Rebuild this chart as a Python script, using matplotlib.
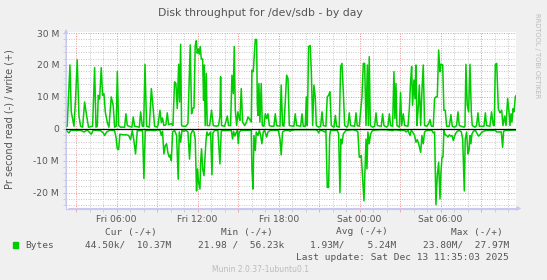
import matplotlib
matplotlib.use("Agg")
import matplotlib.pyplot as plt
from matplotlib.ticker import MultipleLocator, FuncFormatter
from matplotlib.patches import Rectangle

# hours since Fri 00:00, values in MB/s
write_h = [2.25, 2.34, 2.54, 2.64, 2.74, 2.84, 2.96, 3.08, 3.21, 3.33, 3.48, 3.63, 3.78, 3.92,
           4.22, 4.37, 4.47, 4.57, 4.64, 4.74, 4.86, 4.96, 5.06, 5.16, 5.31, 5.43, 5.60, 5.75,
           5.85, 5.97, 6.05, 6.15, 6.29, 6.59, 6.69, 6.79, 7.13, 7.23, 7.33, 7.68, 7.78, 7.90,
           8.00, 8.10, 8.22, 8.42, 8.57, 8.71, 8.81, 9.01,
           9.06, 9.21, 9.31, 9.40, 9.50, 9.65, 9.75, 9.85, 10.05, 10.17, 10.29, 10.39, 10.49,
           10.59, 10.66, 10.74, 10.81, 10.94, 11.13, 11.28, 11.45, 11.55, 11.65, 11.73, 11.82,
           11.90, 11.97, 12.05, 12.12, 12.19, 12.27, 12.37, 12.44, 12.49, 12.56, 12.64, 12.71,
           12.89, 13.03, 13.16, 13.40, 13.55, 13.65, 13.70, 13.77, 14.00, 14.20, 14.29, 14.44,
           14.54, 14.64, 14.71, 14.79, 14.89, 14.98, 15.06, 15.13, 15.23, 15.33, 15.48, 15.60,
           15.73, 15.82, 15.97,
           16.02, 16.12, 16.27, 16.37, 16.42, 16.47, 16.54, 16.61, 16.71, 16.79, 16.91, 17.01,
           17.11, 17.21, 17.31, 17.45, 17.65, 17.75, 17.85, 18.10, 18.19, 18.29, 18.39, 18.49,
           18.59, 18.69, 18.79, 19.13, 19.23, 19.33, 19.63, 19.73, 19.82, 19.97, 20.05, 20.12,
           20.22, 20.34, 20.42, 20.52, 20.61, 20.71, 20.79, 20.96, 21.11, 21.21, 21.31, 21.50,
           21.60, 21.70, 21.80, 21.90, 22.10, 22.20, 22.29, 22.49, 22.59, 22.69, 22.79, 22.89,
           23.06,
           23.13, 23.23, 23.33, 23.63, 23.73, 23.82, 23.97, 24.07, 24.17, 24.27, 24.37, 24.47,
           24.57, 24.64, 24.71, 24.79, 24.96, 25.11, 25.21, 25.31, 25.60, 25.70, 25.80, 26.00,
           26.10, 26.20, 26.29, 26.44, 26.54, 26.61, 26.69, 26.76, 26.94, 27.03, 27.11, 27.23,
           27.33, 27.58, 27.68, 27.77, 27.85, 27.92, 28.02, 28.10, 28.17, 28.24, 28.32, 28.42,
           28.52, 28.61, 28.71, 28.81, 28.96, 29.11, 29.21, 29.31, 29.45, 29.55, 29.65, 29.75,
           29.85, 29.95,
           30.02, 30.15, 30.24, 30.34, 30.44, 30.64, 30.76, 30.86, 31.03, 31.18, 31.28, 31.38,
           31.73, 31.80, 31.87, 31.97, 32.07, 32.17, 32.27, 32.34, 32.54, 32.66, 32.76, 32.86,
           33.21, 33.31, 33.40, 33.65, 33.77, 33.90, 33.97, 34.05, 34.15, 34.27, 34.39, 34.52,
           34.61, 34.74, 34.84, 34.96, 35.06, 35.13, 35.21, 35.28, 35.36, 35.43, 35.53, 35.58]
write_v = [0.8, 0.8, 20.0, 5.3, 3.0, 0.8, 9.5, 21.6, 4.0, 0.8, 0.5, 8.4, 4.0, 0.5,
           0.8, 19.2, 0.5, 0.8, 10.5, 9.3, 19.2, 10.5, 11.0, 5.3, 1.9, 0.5, 10.0, 7.2,
           0.5, 0.8, 17.9, 1.0, 0.5, 0.5, 4.7, 1.0, 0.5, 3.7, 0.8, 0.5, 5.3, 0.8,
           0.8, 20.2, 0.8, 0.5, 12.6, 6.1, 0.8, 0.5,
           1.0, 5.8, 1.9, 3.4, 1.0, 1.3, 5.0, 1.3, 1.6, 1.0, 14.7, 14.2, 6.3,
           20.2, 8.4, 26.5, 1.0, 0.8, 0.8, 1.6, 26.3, 4.7, 6.5, 6.5, 26.1,
           27.6, 23.7, 25.0, 23.4, 25.8, 21.9, 21.9, 8.9, 20.0, 1.0, 17.4, 1.0,
           1.0, 5.8, 1.0, 0.8, 1.0, 4.0, 16.3, 1.0, 0.8, 4.0, 1.0, 1.0,
           16.8, 11.0, 25.8, 5.8, 1.0, 5.3, 3.7, 2.6, 12.6, 2.1, 1.0, 1.9,
           3.7, 3.2, 2.1,
           18.4, 17.9, 28.0, 28.0, 7.4, 4.2, 14.2, 2.1, 14.2, 1.0, 0.8, 4.7,
           3.2, 4.7, 1.0, 0.8, 0.8, 4.7, 1.0, 0.8, 13.7, 1.0, 0.8, 8.4,
           16.8, 15.8, 1.0, 0.8, 4.7, 1.0, 0.8, 4.7, 0.8, 0.8, 10.0, 1.0,
           25.8, 26.1, 17.9, 1.0, 13.7, 10.0, 1.0, 0.5, 0.8, 5.3, 1.0, 0.8,
           10.0, 10.5, 11.6, 1.0, 0.5, 4.2, 0.8, 0.5, 19.5, 20.5, 11.6, 1.0,
           0.5,
           1.0, 5.0, 1.0, 0.8, 5.0, 1.0, 0.8, 5.3, 10.0, 20.5, 20.5, 1.0,
           20.0, 1.0, 22.6, 1.0, 0.5, 0.8, 5.0, 1.0, 0.8, 4.7, 1.0, 0.5,
           1.0, 4.7, 1.0, 0.8, 17.9, 3.2, 14.2, 1.0, 0.5, 11.4, 1.0, 4.7,
           1.0, 0.8, 6.3, 14.7, 19.5, 7.4, 15.3, 9.5, 20.0, 1.0, 5.3, 13.7,
           1.0, 11.6, 20.0, 1.0, 0.8, 1.6, 2.9, 0.8, 0.8, 9.5, 10.0, 10.0,
           24.7, 17.9,
           20.2, 20.0, 5.8, 5.8, 0.8, 0.8, 4.4, 0.8, 0.5, 1.0, 5.3, 1.0,
           0.5, 0.8, 20.2, 7.4, 5.3, 20.2, 5.3, 1.0, 0.5, 1.0, 5.0, 0.8,
           0.8, 5.0, 1.0, 0.8, 5.3, 1.0, 1.0, 20.2, 20.5, 6.3, 5.0, 5.8,
           1.0, 4.0, 1.0, 9.5, 5.3, 1.0, 4.7, 2.1, 6.3, 5.3, 10.0, 10.4]

read_h = [2.25, 2.34, 2.47, 2.59, 3.33, 3.58, 3.82, 4.12, 4.27, 4.81, 5.01, 5.11, 5.26, 5.55,
          5.85, 5.95, 6.05, 6.15, 6.24, 6.49, 6.74, 6.89, 7.03, 7.16, 7.28, 7.40, 7.53, 7.92,
          8.02, 8.12, 8.52, 8.81, 9.06,
          9.21, 9.31, 9.40, 9.50, 9.60, 9.70, 9.80, 9.90, 9.97, 10.05, 10.15, 10.29, 10.44,
          10.56, 10.64, 10.74, 10.84, 10.99, 11.13, 11.28, 11.40, 11.50, 11.63, 11.73, 11.82,
          11.92, 11.99, 12.07, 12.17, 12.22, 12.29, 12.37, 12.47, 12.54, 12.61, 12.69, 12.79,
          12.89, 12.96, 13.06, 13.13, 13.26, 13.50, 13.65, 13.75, 14.49, 14.59, 14.66, 14.76,
          14.84, 14.94, 15.01, 15.08, 15.23, 15.97,
          16.02, 16.10, 16.17, 16.27, 16.34, 16.47, 16.57, 16.66, 16.76, 16.86, 16.96, 17.11,
          17.21, 17.40, 17.98, 18.10, 18.19, 18.29, 18.49, 18.74, 18.84, 18.94, 19.23, 20.71,
          20.86, 20.96, 21.06, 21.26, 21.40, 21.50, 21.60, 21.70, 21.78, 21.85, 22.34, 22.44,
          22.54, 22.61, 22.69, 22.79, 22.99,
          23.48, 23.73, 23.87, 23.97, 24.07, 24.12, 24.22, 24.32, 24.39, 24.47, 24.54, 24.61,
          24.71, 24.81, 24.96, 25.45, 25.95, 26.44, 26.59, 26.94, 27.33, 27.43, 27.58, 27.73,
          27.82, 27.92, 28.07, 28.17, 28.27, 28.37, 28.52, 28.61, 28.71, 28.81, 28.96, 29.36,
          29.45, 29.55, 29.65, 29.75, 29.85,
          29.95, 30.02, 30.10, 30.17, 30.24, 30.34, 30.44, 30.54, 30.64, 30.74, 30.84, 30.94,
          31.03, 31.13, 31.23, 31.38, 31.53, 31.63, 31.75, 31.82, 31.92, 32.02, 32.10, 32.17,
          32.24, 32.32, 32.42, 32.57, 32.71, 32.81, 32.91, 33.01, 33.16, 33.40, 34.05, 34.15,
          34.49, 34.59, 34.66, 34.79, 35.58]
read_v = [0.5, 0.8, 1.3, 0.5, 0.5, 1.0, 0.4, 1.7, 0.4, 0.6, 1.3, 2.1, 1.0, 0.4,
          0.6, 2.6, 6.3, 6.5, 1.7, 1.9, 1.9, 2.1, 3.4, 0.6, 3.7, 7.9, 0.6, 0.6,
          15.6, 0.6, 0.5, 0.6, 0.3,
          0.5, 2.1, 0.8, 7.9, 5.3, 4.7, 7.6, 8.9, 8.2, 10.0, 1.0, 0.5, 2.1,
          15.8, 1.0, 4.2, 0.5, 0.8, 0.5, 1.0, 9.5, 1.6, 0.5, 1.0, 3.2,
          19.5, 12.6, 16.8, 18.9, 10.5, 6.3, 12.6, 14.7, 9.5, 4.2, 1.0, 2.1,
          1.6, 1.0, 14.4, 1.3, 0.5, 0.5, 11.0, 0.6, 0.5, 3.2, 0.8, 2.3,
          1.3, 0.5, 4.7, 1.0, 0.5, 0.5,
          12.6, 18.9, 2.1, 6.8, 1.0, 2.1, 0.5, 1.9, 4.7, 1.0, 0.5, 2.6,
          1.0, 0.5, 0.5, 3.2, 8.2, 1.0, 0.5, 0.5, 0.8, 0.5, 0.3, 0.3,
          0.5, 1.3, 0.5, 0.6, 1.0, 0.5, 18.4, 18.4, 2.1, 0.5, 0.5, 1.6,
          20.0, 3.2, 4.7, 1.6, 0.5,
          0.3, 0.5, 1.0, 8.9, 8.9, 8.4, 15.8, 22.6, 13.7, 3.2, 12.6, 1.0,
          4.7, 1.6, 0.5, 0.3, 0.3, 0.6, 0.3, 0.5, 0.5, 1.0, 0.5, 2.1,
          0.5, 1.0, 2.1, 4.2, 3.4, 4.7, 7.4, 2.1, 4.7, 1.0, 0.5, 0.5,
          1.3, 1.0, 23.8, 14.7, 10.5,
          22.0, 13.7, 8.9, 8.9, 0.5, 1.9, 2.1, 2.6, 1.9, 2.3, 2.1, 3.7,
          2.3, 1.3, 0.8, 0.5, 1.0, 3.2, 19.5, 3.2, 1.0, 7.9, 6.8, 2.1,
          4.7, 1.6, 0.8, 0.5, 1.6, 2.3, 1.9, 1.3, 0.8, 0.5, 0.5, 1.0,
          1.0, 5.8, 0.8, 0.5, 0.4]

x_ticks = [6, 12, 18, 24, 30]
x_labels = ["Fri 06:00", "Fri 12:00", "Fri 18:00", "Sat 00:00", "Sat 06:00"]

W, H = 547, 280
fig = plt.figure(figsize=(W / 100, H / 100), dpi=100, facecolor="#F0F0F0")
ax = fig.add_axes([66 / W, 1 - 208.5 / H, 450 / W, 177 / H])
ax.set_facecolor("white")

green = "#00CC00"
ax.plot(write_h, write_v, color=green, lw=1.1, zorder=3)
ax.plot(read_h, [-v for v in read_v], color=green, lw=1.1, zorder=3)
ax.axhline(0, color="black", lw=0.9, zorder=4)

ax.set_xlim(2.25, 35.58)
ax.set_ylim(-25, 30.5)

ax.xaxis.set_major_locator(MultipleLocator(3))
ax.xaxis.set_minor_locator(MultipleLocator(1))
ax.yaxis.set_major_locator(MultipleLocator(10))
ax.yaxis.set_minor_locator(MultipleLocator(2))

def xfmt(v, pos):
    v = int(round(v))
    return x_labels[x_ticks.index(v)] if v in x_ticks else ""

def yfmt(v, pos):
    v = int(round(v))
    return "0" if v == 0 else f"{v} M"

ax.xaxis.set_major_formatter(FuncFormatter(xfmt))
ax.yaxis.set_major_formatter(FuncFormatter(yfmt))

dots = (0, (1, 1.5))
ax.grid(which="minor", color="#C8C8C8", ls=dots, lw=0.7, zorder=1)
ax.grid(which="major", color="#F09090", ls=dots, lw=0.7, zorder=2)

for s in ["top", "right"]:
    ax.spines[s].set_visible(False)
for s in ["left", "bottom"]:
    ax.spines[s].set_color("#C8C8F0")
    ax.spines[s].set_linewidth(0.8)

ax.tick_params(which="major", length=2, width=0.6, color="#F09A9A",
               labelsize=6.6, labelcolor="#555555", pad=3)
ax.tick_params(which="minor", length=2, width=0.6, color="#C8C8C8")

arrow = dict(arrowstyle="-|>", color="#C8C8F0", lw=0.8, mutation_scale=6)
ax.annotate("", xy=(1.018, 0), xytext=(0, 0), xycoords="axes fraction",
            arrowprops=arrow, annotation_clip=False)
ax.annotate("", xy=(0, 1.03), xytext=(0, 0), xycoords="axes fraction",
            arrowprops=arrow, annotation_clip=False)

fig.text(260.7 / W, 1 - 13 / H, "Disk throughput for /dev/sdb - by day",
         ha="center", va="center", fontsize=7.8, color="#555555")
fig.text(10 / W, 1 - 119 / H, "Pr second read (-) / write (+)", rotation=90,
         ha="center", va="center", fontsize=7.0, color="#555555")
fig.text(537 / W, 1 - 56 / H, "RRDTOOL / TOBI OETIKER", rotation=270,
         ha="center", va="center", fontsize=4.8, color="#BBBBBB")

mono = dict(family="DejaVu Sans Mono", fontsize=6.8, color="#555555", va="center")
headers = ["Cur (-/+)", "Min (-/+)", "Avg (-/+)", "Max (-/+)"]
header_x = [157, 272.7, 387.3, 502.7]
values = ["44.50k/  10.37M", "21.98 /  56.23k", "1.93M/    5.24M", "23.80M/  27.97M"]
value_x = [171.7, 284.3, 396.7, 509]
for t, x in zip(headers, header_x):
    fig.text(x / W, 1 - 232 / H, t, ha="right", **mono)
for t, x in zip(values, value_x):
    fig.text(x / W, 1 - 245 / H, t, ha="right", **mono)
fig.text(25 / W, 1 - 245 / H, "Bytes", ha="left", **mono)
fig.patches.append(Rectangle((13.3 / W, 1 - 248 / H), 5 / W, 6 / H,
                             transform=fig.transFigure, color=green))
fig.text(509 / W, 1 - 257 / H, "Last update: Sat Dec 13 11:35:03 2025", ha="right", **mono)
fig.text(261 / W, 1 - 269 / H, "Munin 2.0.37-1ubuntu0.1", ha="center", va="center",
         fontsize=5.5, color="#BBBBBB")

fig.savefig("out.png", dpi=100, facecolor=fig.get_facecolor())
